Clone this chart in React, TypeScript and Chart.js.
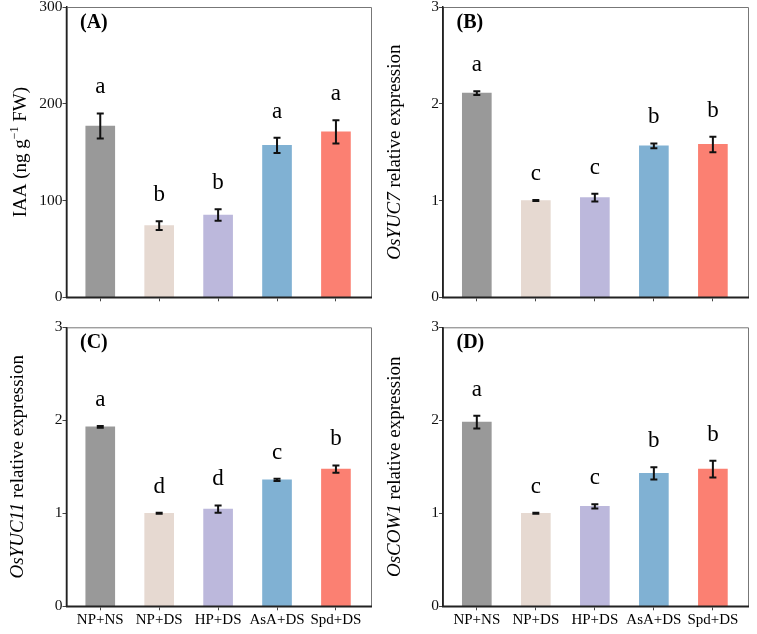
import { useEffect, useRef } from 'react';
import { Chart, registerables } from 'chart.js';

Chart.register(...registerables);

const categories = ['NP+NS', 'NP+DS', 'HP+DS', 'AsA+DS', 'Spd+DS'];
const barColors = ['#999999', '#e6d9d1', '#bcb8dc', '#80b1d3', '#fb8072'];

const iaaMeans = [177, 74, 85, 157, 171];
const iaaErrs = [13, 4.5, 6, 8, 12];
const iaaLetters = ['a', 'b', 'b', 'a', 'a'];
const iaaTicks = { max: 300, step: 100 };

const yuc7Means = [2.11, 1.0, 1.03, 1.565, 1.58];
const yuc7Errs = [0.02, 0.005, 0.04, 0.025, 0.08];
const yuc7Letters = ['a', 'c', 'c', 'b', 'b'];

const yuc11Means = [1.93, 1.0, 1.045, 1.36, 1.475];
const yuc11Errs = [0.01, 0.005, 0.04, 0.012, 0.04];
const yuc11Letters = ['a', 'd', 'd', 'c', 'b'];

const cow1Means = [1.98, 1.0, 1.075, 1.43, 1.475];
const cow1Errs = [0.068, 0.005, 0.023, 0.066, 0.09];
const cow1Letters = ['a', 'c', 'c', 'b', 'b'];
const exprTicks = { max: 3, step: 1 };

const FONT = '"Liberation Serif", "Times New Roman", Times, serif';
const W = 757;
const H = 634;
const X_MIN = -0.573;
const X_MAX = 4.595;

type Seg = { t: string; i?: boolean; sup?: boolean };
type Panel = {
  means: number[];
  errs: number[];
  letters: string[];
  tag: string;
  ticks: { max: number; step: number };
  title: Seg[];
  titleX: number;
  area: [number, number, number, number];
  showX: boolean;
};

const panels: Panel[] = [
  {
    means: iaaMeans, errs: iaaErrs, letters: iaaLetters, tag: '(A)', ticks: iaaTicks,
    title: [{ t: 'IAA (ng g' }, { t: '\u22121', sup: true }, { t: ' FW)' }],
    titleX: 25.5, area: [66.5, 7, 371, 297.3], showX: false,
  },
  {
    means: yuc7Means, errs: yuc7Errs, letters: yuc7Letters, tag: '(B)', ticks: exprTicks,
    title: [{ t: 'OsYUC7', i: true }, { t: ' relative expression' }],
    titleX: 399.5, area: [443, 7, 748, 297.3], showX: false,
  },
  {
    means: yuc11Means, errs: yuc11Errs, letters: yuc11Letters, tag: '(C)', ticks: exprTicks,
    title: [{ t: 'OsYUC11', i: true }, { t: ' relative expression' }],
    titleX: 22.5, area: [66.5, 327.3, 371, 606.3], showX: true,
  },
  {
    means: cow1Means, errs: cow1Errs, letters: cow1Letters, tag: '(D)', ticks: exprTicks,
    title: [{ t: 'OsCOW1', i: true }, { t: ' relative expression' }],
    titleX: 399.5, area: [443, 327.3, 748, 606.3], showX: true,
  },
];

function fixFit(s: any, horizontal: boolean, size: number) {
  if (horizontal) s.height = size; else s.width = size;
  s.paddingLeft = 0; s.paddingRight = 0; s.paddingTop = 0; s.paddingBottom = 0;
}

function PanelChart({ panel }: { panel: Panel }) {
  const ref = useRef<HTMLCanvasElement>(null);
  useEffect(() => {
    const [L, T, R, B] = panel.area;
    const overlay = {
      id: 'overlay' + panel.tag.replace(/[()]/g, ''),
      afterDatasetsDraw(chart: any) {
        const { ctx, chartArea: a } = chart;
        const x = chart.scales.x;
        const y = chart.scales.y;
        ctx.save();
        panel.means.forEach((m, i) => {
          const px = x.getPixelForValue(i);
          const yt = y.getPixelForValue(m + panel.errs[i]);
          const yb = y.getPixelForValue(m - panel.errs[i]);
          ctx.strokeStyle = '#111';
          ctx.lineWidth = 2;
          ctx.beginPath();
          ctx.moveTo(px, yt); ctx.lineTo(px, yb);
          ctx.moveTo(px - 3.5, yt); ctx.lineTo(px + 3.5, yt);
          ctx.moveTo(px - 3.5, yb); ctx.lineTo(px + 3.5, yb);
          ctx.stroke();
          ctx.fillStyle = '#000';
          ctx.font = `23px ${FONT}`;
          ctx.textAlign = 'center';
          ctx.textBaseline = 'alphabetic';
          ctx.fillText(panel.letters[i], px, yt - 20);
        });
        // top & right frame
        ctx.strokeStyle = '#777';
        ctx.lineWidth = 1;
        ctx.beginPath();
        ctx.moveTo(a.left, a.top + 0.5);
        ctx.lineTo(a.right + 0.5, a.top + 0.5);
        ctx.lineTo(a.right + 0.5, a.bottom);
        ctx.stroke();
        // bottom & left axis lines on top of bars
        ctx.strokeStyle = '#222';
        ctx.lineWidth = 1.5;
        ctx.beginPath();
        ctx.moveTo(a.left, a.top);
        ctx.lineTo(a.left, a.bottom);
        ctx.lineTo(a.right + 1, a.bottom);
        ctx.stroke();
        // panel tag
        ctx.fillStyle = '#000';
        ctx.font = `bold 20px ${FONT}`;
        ctx.textAlign = 'left';
        ctx.textBaseline = 'alphabetic';
        ctx.fillText(panel.tag, a.left + 13.5, a.top + 21);
        // y title
        ctx.save();
        ctx.translate(panel.titleX, (a.top + a.bottom) / 2);
        ctx.rotate(-Math.PI / 2);
        const fontFor = (s: Seg) => `${s.i ? 'italic ' : ''}${s.sup ? 12 : 19}px ${FONT}`;
        let total = 0;
        panel.title.forEach((s) => { ctx.font = fontFor(s); total += ctx.measureText(s.t).width; });
        let cx = -total / 2;
        panel.title.forEach((s) => {
          ctx.font = fontFor(s);
          ctx.fillText(s.t, cx, s.sup ? -8 : 0);
          cx += ctx.measureText(s.t).width;
        });
        ctx.restore();
        ctx.restore();
      },
    };

    const gridOpts = { display: true, drawOnChartArea: false, drawTicks: true, tickLength: 4, color: '#444', lineWidth: 1, offset: false };
    const borderOpts = { display: true, color: '#222', width: 1.5 };

    const chart = new Chart(ref.current as HTMLCanvasElement, {
      type: 'bar',
      data: {
        datasets: [
          {
            data: panel.means.map((m, i) => ({ x: i, y: m })),
            backgroundColor: barColors,
            borderWidth: 0,
            barThickness: 29,
          } as any,
        ],
      },
      options: {
        responsive: false,
        animation: false,
        events: [],
        layout: { padding: { left: 0, top: T, right: W - R, bottom: 0 } },
        plugins: { legend: { display: false }, tooltip: { enabled: false } },
        scales: {
          x: {
            type: 'linear',
            min: X_MIN,
            max: X_MAX,
            offset: false,
            grid: gridOpts,
            border: borderOpts,
            ticks: {
              display: panel.showX,
              autoSkip: false,
              maxRotation: 0,
              minRotation: 0,
              padding: 1,
              color: '#000',
              font: { family: FONT, size: 15 },
              callback: (v: any) => categories[v as number] ?? '',
            },
            afterBuildTicks: (s: any) => { s.ticks = categories.map((_, i) => ({ value: i })); },
            afterFit: (s: any) => fixFit(s, true, H - B),
          } as any,
          y: {
            min: 0,
            max: panel.ticks.max,
            grid: gridOpts,
            border: borderOpts,
            ticks: {
              stepSize: panel.ticks.step,
              padding: 0,
              color: '#111',
              font: { family: FONT, size: 15.5 },
            },
            afterFit: (s: any) => fixFit(s, false, L),
          } as any,
        },
      },
      plugins: [overlay],
    });
    return () => chart.destroy();
  }, [panel]);
  return (
    <canvas
      ref={ref}
      width={W}
      height={H}
      style={{ position: 'absolute', left: 0, top: 0, width: W, height: H }}
    />
  );
}

export default function App() {
  return (
    <div style={{ position: 'fixed', left: 0, top: 0, width: W, height: H, background: '#fff', overflow: 'hidden' }}>
      {panels.map((p) => (
        <PanelChart key={p.tag} panel={p} />
      ))}
    </div>
  );
}
